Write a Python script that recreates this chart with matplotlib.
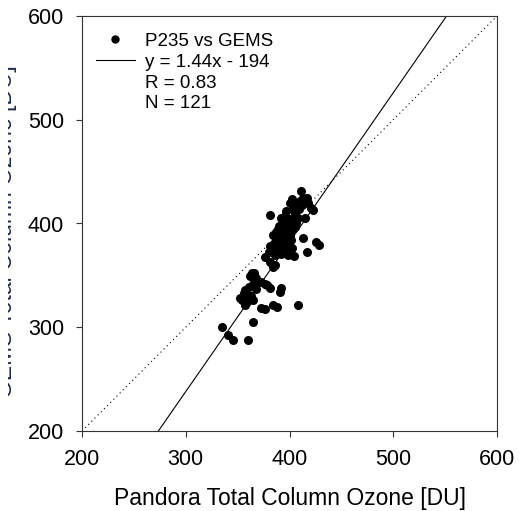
import matplotlib
matplotlib.use('Agg')
import matplotlib.pyplot as plt
from matplotlib.lines import Line2D
from matplotlib.transforms import Bbox, TransformedBbox

plt.rcParams['font.family'] = ['Liberation Sans', 'DejaVu Sans']

# Pandora vs GEMS total column ozone [DU]
pandora = [411, 417, 402, 400, 407, 418, 423, 381, 397, 405, 415, 394, 399, 405,
           389, 396, 384, 391, 400, 386, 396, 413, 426, 428, 417, 381, 380, 386,
           392, 399, 404, 376, 381, 386, 421, 408, 402,
           384, 364, 368, 373, 365, 378, 381, 357, 359, 354, 365, 357, 392, 391,
           373, 384, 408, 365, 335, 341, 346, 360, 376, 388, 352,
           392, 396, 400, 403, 390, 393, 398, 402, 387, 392, 396, 401, 389, 394,
           399, 388, 392, 397, 402, 385, 404, 409, 403, 398, 406, 412, 413, 410,
           362, 366, 370, 361, 356, 363, 368, 376, 355, 359]
gems = [431, 425, 424, 420, 418, 420, 413, 408, 412, 410, 405, 402, 399, 397,
        395, 392, 389, 386, 389, 382, 381, 386, 382, 379, 373, 378, 373, 370,
        371, 370, 369, 368, 363, 360, 415, 405, 402,
        358, 352, 347, 344, 342, 341, 338, 336, 331, 326, 326, 321, 338, 334,
        319, 321, 321, 305, 300, 293, 288, 288, 318, 320, 328,
        405, 407, 404, 399, 398, 394, 392, 394, 392, 388, 386, 384, 385, 383,
        379, 377, 376, 375, 376, 374, 412, 414, 416, 401, 400, 418, 425, 422,
        349, 352, 344, 339, 333, 330, 337, 342, 328, 324]

slope = 1.44
intercept = -194
r_value = 0.83
n_points = 121
ticks = [200, 300, 400, 500, 600]

fig = plt.figure(figsize=(5.27, 5.11), dpi=100)
ax = fig.add_axes([82 / 527, 80 / 511, 415 / 527, 415 / 511])

ax.plot([200, 600], [200, 600], color='black', linestyle=(0, (1, 3)), linewidth=0.8)
fit_x = [200, 600]
fit_y = [slope * v + intercept for v in fit_x]
ax.plot(fit_x, fit_y, color='black', linewidth=0.8)
ax.plot(pandora, gems, 'o', color='black', markersize=6.5, markeredgewidth=0)

ax.set_xlim(200, 600)
ax.set_ylim(200, 600)
ax.set_xticks(ticks)
ax.set_yticks(ticks)
ax.tick_params(direction='out', length=4, width=0.8, labelsize=15.5, pad=9,
               colors='#333333', labelcolor='black')
for s in ax.spines.values():
    s.set_linewidth(0.8)
    s.set_color('#333333')

ax.set_xlabel('Pandora Total Column Ozone [DU]', fontsize=16.5, labelpad=12)
# y label of the original panel, only a sliver of it is left in the crop
ylab = fig.text(17 / 527, 1 - 232 / 511, 'GEMS Total Column Ozone [DU]', rotation=90,
                ha='right', va='center', fontsize=16.5, color='#1a2a50')
ylab.set_clip_box(TransformedBbox(Bbox([[8 / 527, 0], [1, 1]]), fig.transFigure))
ylab.set_clip_on(True)

handles = [Line2D([], [], marker='o', color='black', linestyle='none', markersize=5),
           Line2D([], [], color='black', linewidth=0.8),
           Line2D([], [], linestyle='none'),
           Line2D([], [], linestyle='none')]
labels = ['P235 vs GEMS', 'y = %.2fx - %d' % (slope, -intercept),
          'R = %.2f' % r_value, 'N = %d' % n_points]
ax.legend(handles, labels, loc='upper left', frameon=False, fontsize=13.5,
          handlelength=2.1, handletextpad=0.5, labelspacing=0.2,
          borderaxespad=0.6, borderpad=0.4, bbox_to_anchor=(-0.012, 1.005))

fig.savefig('out.png', dpi=100)
